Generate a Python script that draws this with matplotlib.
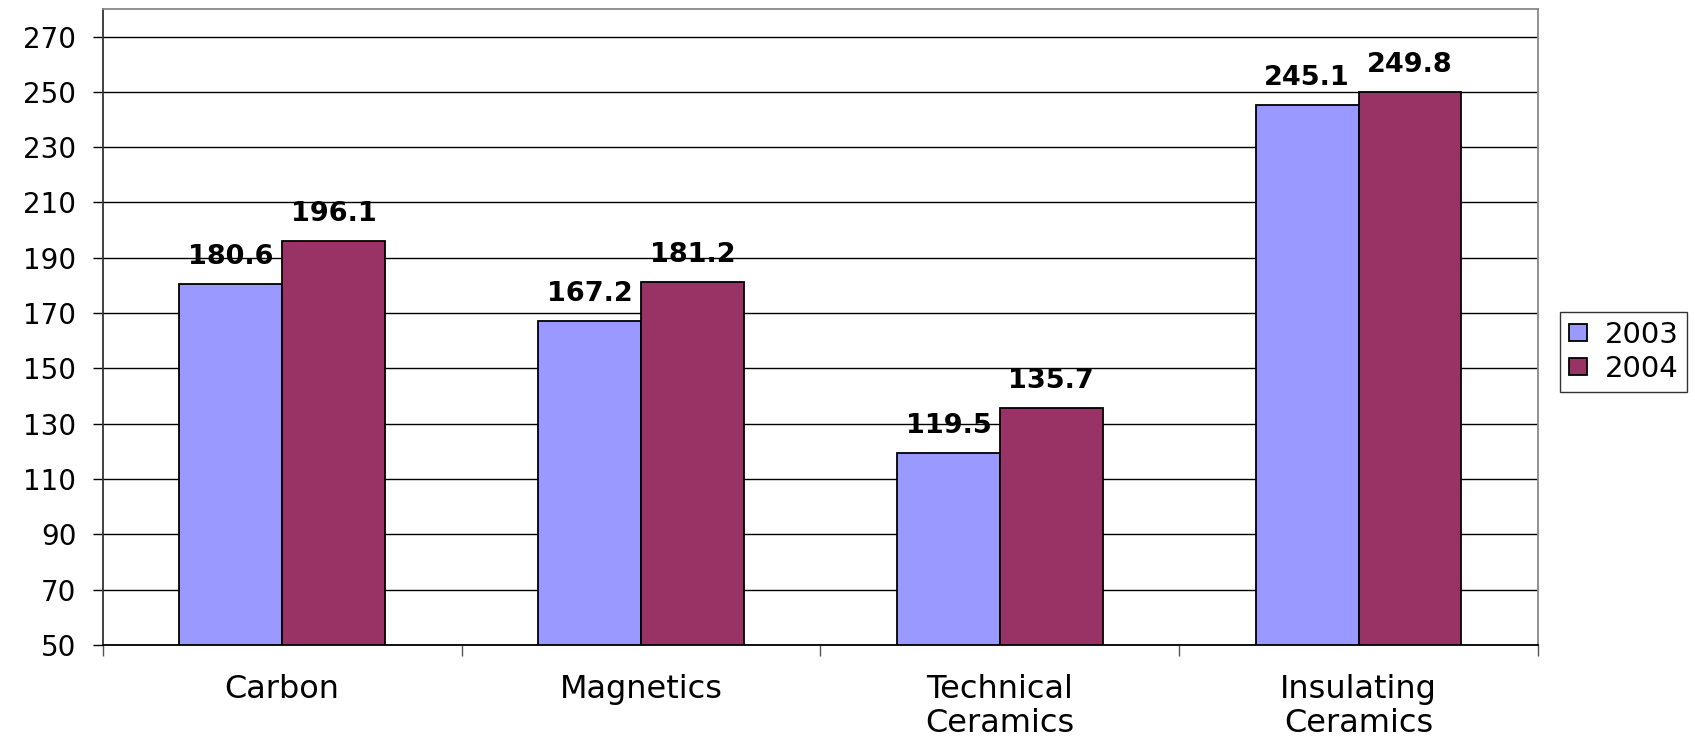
import numpy as np
import matplotlib
matplotlib.use('Agg')
import matplotlib.pyplot as plt

# data
categories = ['Carbon', 'Magnetics', 'Technical\nCeramics', 'Insulating\nCeramics']
years = ['2003', '2004']
vals_2003 = [180.6, 167.2, 119.5, 245.1]
vals_2004 = [196.1, 181.2, 135.7, 249.8]
yticks = list(range(50, 271, 20))

plt.rcParams['font.family'] = 'DejaVu Sans'

fig = plt.figure(figsize=(16.95, 7.38), dpi=100)
ax = fig.add_axes([0.0606, 0.126, 0.8468, 0.862])

x = np.arange(len(categories))
w = 0.2865
b1 = ax.bar(x - w/2, np.array(vals_2003) - 50, w, bottom=50, color='#9999FF',
            edgecolor='black', linewidth=1.3, label=years[0], zorder=3)
b2 = ax.bar(x + w/2, np.array(vals_2004) - 50, w, bottom=50, color='#993366',
            edgecolor='black', linewidth=1.3, label=years[1], zorder=3)

# value labels
for xs, vs in [(x - w/2, vals_2003), (x + w/2, vals_2004)]:
    for xi, v in zip(xs, vs):
        ax.annotate(f'{v:.1f}', (xi, v), xytext=(0, 10), textcoords='offset points',
                    ha='center', va='bottom', fontsize=19.5, fontweight='bold')

ax.set_xlim(-0.5, 3.5)
ax.set_ylim(50, 280)
ax.set_yticks(yticks)
ax.yaxis.grid(True, color='black', linewidth=1)
ax.set_axisbelow(True)
ax.tick_params(axis='y', labelsize=20, length=7, width=1, pad=12)

# category boundaries as major ticks, names as minor ticks
ax.set_xticks(np.arange(-0.5, 4, 1))
ax.set_xticklabels([])
ax.set_xticks(x, minor=True)
ax.set_xticklabels(categories, minor=True, fontsize=23, linespacing=1.1)
ax.tick_params(axis='x', which='major', length=8, width=1, direction='out', color='#555555')
ax.tick_params(axis='x', which='minor', length=0, pad=21)

ax.spines['left'].set_color('#333333')
ax.spines['bottom'].set_color('black')
ax.spines['top'].set_color('#888888')
ax.spines['right'].set_color('#888888')
for s in ax.spines.values():
    s.set_linewidth(1.3)

leg = fig.legend(handles=[b1, b2], loc='upper left', bbox_to_anchor=(0.9204, 0.577),
                 fontsize=21, frameon=True, fancybox=False, borderaxespad=0,
                 handlelength=0.62, handleheight=0.5, handletextpad=0.6,
                 borderpad=0.3, labelspacing=0.2)
leg.get_frame().set_edgecolor('black')
leg.get_frame().set_linewidth(1)

fig.savefig('out.png', dpi=100)
